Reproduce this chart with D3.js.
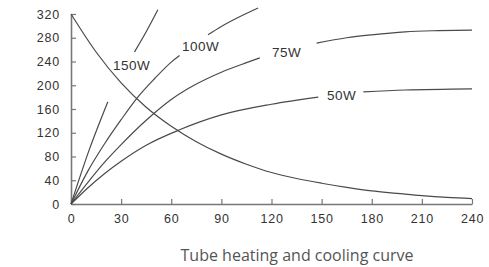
<!DOCTYPE html>
<html>
<head>
<meta charset="utf-8">
<script src="https://cdn.jsdelivr.net/npm/d3@7"></script>
<style>
  body { margin: 0; background: #fff; }
  text { font-family: "Liberation Sans", Arial, sans-serif; }
</style>
</head>
<body>
<script>
// values: [minutes, temperature]; null = gap for a label
var cooling = [[0,320],[15,256],[30,204],[45,163],[60,131],[75,105],[90,84],[105,67],[120,53],[135,43],[150,35],[165,28],[180,22],[195,18],[210,14],[225,11],[240,9]]
var w150 = [[0,0],[11,92],[22,172],[30,null],[38,256],[45,290],[52,327]]
var w100 = [[0,0],[10,55],[20,101],[30,142],[40,180],[50,211],[60,239],[65,250],[75,null],[82,285],[90,299],[100,314],[112,330]]
var w75 = [[0,0],[10,36],[20,70],[30,100],[45,141],[60,176],[75,202],[90,222],[105,238],[113,246],[130,null],[147,271],[165,280],[180,285],[200,290],[220,292],[240,293]]
var w50 = [[0,0],[10,27],[20,51],[30,72],[45,99],[65,125],[90,150],[120,168],[148,180],[160,null],[175,189],[200,192],[240,194]]
var xTicks = [0,30,60,90,120,150,180,210,240]
var yTicks = [0,40,80,120,160,200,240,280,320]
var labels = [{t: "150W", x: 36.3, y: 234}, {t: "100W", x: 77.6, y: 265}, {t: "75W", x: 129.1, y: 255}, {t: "50W", x: 161.9, y: 183}]

var svg = d3.select("body").append("svg")
  .attr('width', 489)
  .attr('height', 267)

var x = d3.scaleLinear().domain([0, 240]).range([71, 472])
var y = d3.scaleLinear().domain([0, 320]).range([204, 14])

// axes, ticks pointing inward
svg.append("g")
  .attr('transform', 'translate(0,204)')
  .call(d3.axisBottom(x).tickValues(xTicks).tickSize(-5).tickPadding(10).tickSizeOuter(0))
  .call(styleAxis)

svg.append("g")
  .attr('transform', 'translate(71,0)')
  .call(d3.axisLeft(y).tickValues(yTicks).tickSize(-5).tickPadding(11).tickSizeOuter(0))
  .call(styleAxis)

function styleAxis(g) {
  g.select(".domain").attr('stroke', '#777').attr('stroke-width', 1.6)
  g.selectAll(".tick line").attr('stroke', '#777').attr('stroke-width', 1.2)
  g.selectAll(".tick text")
    .attr('fill', '#333')
    .style('font-size', '12.5px')
    .style('letter-spacing', '0.8px')
}

var line = d3.line()
  .defined(function(d) { return d[1] != null })
  .x(function(d) { return x(d[0]) })
  .y(function(d) { return y(d[1]) })
  .curve(d3.curveMonotoneX)

var series = [cooling, w150, w100, w75, w50]
svg.selectAll("path.curve")
  .data(series)
  .enter().append("path")
  .attr('class', 'curve')
  .attr('d', line)
  .attr('fill', 'none')
  .attr('stroke', '#4a4a4a')
  .attr('stroke-width', 1.2)

svg.selectAll("text.lbl")
  .data(labels)
  .enter().append("text")
  .attr('class', 'lbl')
  .attr('x', function(d) { return x(d.x) })
  .attr('y', function(d) { return y(d.y) })
  .attr('text-anchor', 'middle')
  .attr('dominant-baseline', 'central')
  .attr('fill', '#333')
  .style('font-size', '13.5px')
  .style('letter-spacing', '0.5px')
  .text(function(d) { return d.t })

svg.append("text")
  .attr('x', 297)
  .attr('y', 255)
  .attr('text-anchor', 'middle')
  .attr('dominant-baseline', 'central')
  .attr('fill', '#555')
  .style('font-family', '"Open Sans", sans-serif')
  .style('font-size', '16px')
  .text("Tube heating and cooling curve")
</script>
</body>
</html>
